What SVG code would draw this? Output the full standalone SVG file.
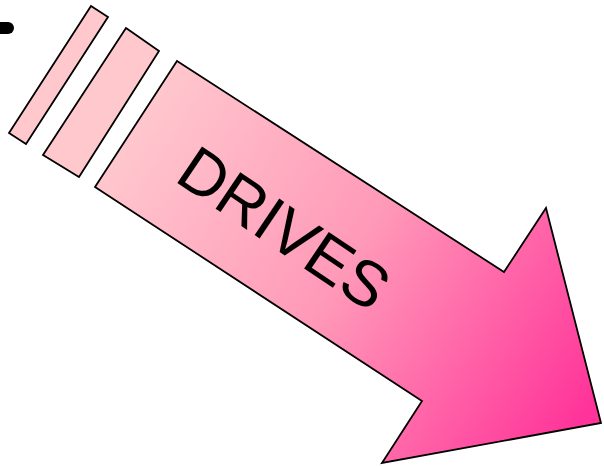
<svg xmlns="http://www.w3.org/2000/svg" width="604" height="466" viewBox="0 0 604 466">
<defs>
<linearGradient id="g" gradientUnits="userSpaceOnUse" x1="110" y1="110" x2="590" y2="410">
<stop offset="0" stop-color="#FFCCD0"/>
<stop offset="0.5" stop-color="#FF99B8"/>
<stop offset="1" stop-color="#FF3399"/>
</linearGradient>
<style>
.s{stroke:#000;stroke-width:1.8;stroke-linejoin:miter}
.t{font-family:"Liberation Sans",Arial,sans-serif;font-size:64px;fill:#000}
</style>
</defs>
<g id="mark"><rect x="-12" y="22" width="26" height="12" rx="6" fill="#000"/></g>
<g id="stripe1"><polygon class="s" fill="#FFC8CC" points="91,6 108,17 26,144 9,133"/></g>
<g id="stripe2"><polygon class="s" fill="#FFC8CC" points="126,28 159,51 79,177 43,155"/></g>
<g id="arrow">
<polygon class="s" fill="url(#g)" points="177,61 504,272 546,208 601,423 382,463 422,401 95,187"/>
<text class="t" transform="translate(173,180) rotate(34)">DRIVES</text>
</g>
</svg>
